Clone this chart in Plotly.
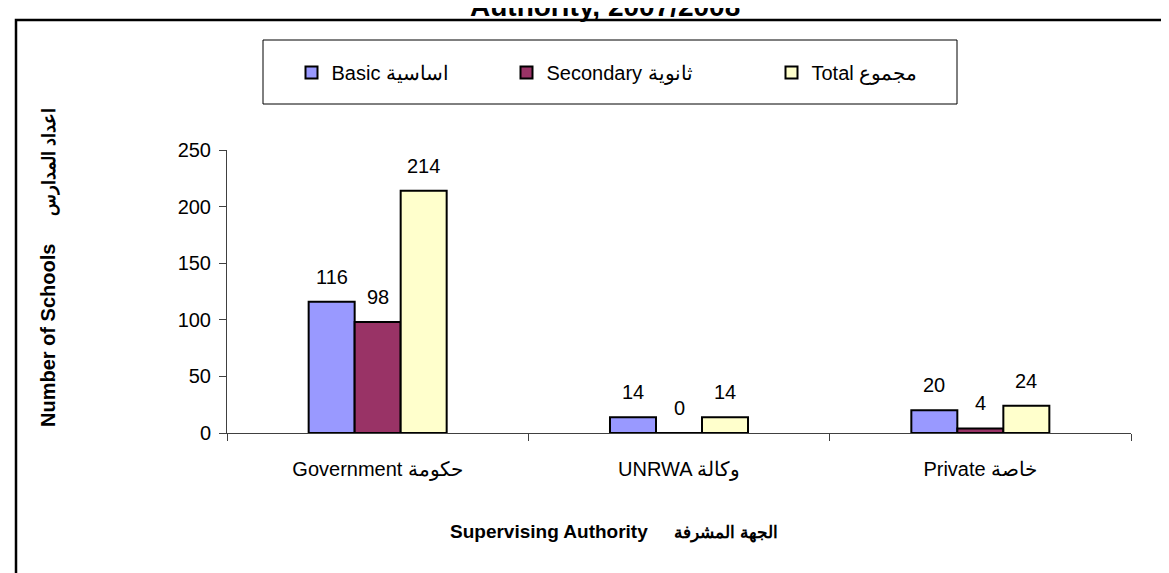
import plotly.graph_objects as go

# ---- data ----
categories = ["Government حكومة", "UNRWA وكالة", "Private خاصة"]
basic = [116, 14, 20]
secondary = [98, 0, 4]
total = [214, 14, 24]
series_names = ["Basic اساسية", "Secondary ثانوية", "Total مجموع"]
y_ticks = [0, 50, 100, 150, 200, 250]
title_text = "Authority, 2007/2008"
y_title_en = "Number of Schools"
y_title_ar = "اعداد المدارس"
x_title_en = "Supervising Authority"
x_title_ar = "الجهة المشرفة"

# ---- styling / geometry ----
colors = ["#9999FF", "#993366", "#FFFFCC"]
W, H = 1169, 573
L, R, T, B = 219, 1123, 142, 425
FONT = "Liberation Sans, Arial, sans-serif"
BARGAP = 0.542


def px(xp):
    return (xp - L) / (R - L)


def py(yp):
    return (B - yp) / (B - T)


series = [basic, secondary, total]
legend_ids = ["legend", "legend2", "legend3"]

fig = go.Figure()
for name, vals, col, lg in zip(series_names, series, colors, legend_ids):
    fig.add_trace(go.Bar(
        x=categories, y=vals, name=name, legend=lg,
        marker=dict(color=col, line=dict(color="black", width=2)),
    ))

# value labels
cat_px = (R - L) / len(categories)
bar_w = cat_px * (1 - BARGAP) / len(series)
annotations = []
for i, vals in enumerate(series):
    for c, v in zip(categories, vals):
        annotations.append(dict(
            x=c, y=v, xref="x", yref="y", text=str(v), showarrow=False,
            xshift=(i - 1) * bar_w, yshift=12, yanchor="bottom",
            font=dict(family=FONT, size=20, color="black"),
        ))

# y title
annotations.append(dict(
    x=px(40), y=py(260), xref="paper", yref="paper", textangle=-90,
    showarrow=False, xanchor="center", yanchor="middle",
    text=f"<b>{y_title_en}</b>\u00a0\u00a0\u00a0\u00a0\u00a0<b><span style='font-size:18px'>{y_title_ar}</span></b>",
    font=dict(family=FONT, size=20, color="black"),
))
# x title
annotations.append(dict(
    x=px(440), y=py(524), xref="paper", yref="paper",
    showarrow=False, xanchor="left", yanchor="middle",
    text=f"<b>{x_title_en}</b>\u00a0\u00a0\u00a0\u00a0\u00a0<b><span style='font-size:17px'>{x_title_ar}</span></b>",
    font=dict(family=FONT, size=19, color="black"),
))
# clipped title at top
annotations.append(dict(
    x=px(597), y=py(16), xref="paper", yref="paper",
    showarrow=False, xanchor="center", yanchor="bottom",
    text=f"<b>{title_text}</b>",
    font=dict(family=FONT, size=28, color="black"),
))

shapes = [
    # outer chart border
    dict(type="rect", xref="paper", yref="paper",
         x0=px(8), x1=px(1180), y0=py(590), y1=py(12),
         line=dict(color="black", width=2.5), fillcolor="rgba(0,0,0,0)", layer="below"),
    # legend box
    dict(type="rect", xref="paper", yref="paper",
         x0=px(255), x1=px(949), y0=py(96), y1=py(32),
         line=dict(color="black", width=1), fillcolor="white", layer="below"),
]

leg_common = dict(orientation="h", yanchor="middle", xanchor="left",
                  bgcolor="rgba(0,0,0,0)", borderwidth=0,
                  font=dict(family=FONT, size=20, color="black"))
sq_centers = [305.5, 520.5, 785.5]

fig.update_layout(
    width=W, height=H,
    margin=dict(l=L, r=W - R, t=T, b=H - B),
    paper_bgcolor="white", plot_bgcolor="white",
    barmode="group", bargap=BARGAP, bargroupgap=0,
    font=dict(family=FONT, size=20, color="black"),
    showlegend=True,
    legend=dict(x=px(sq_centers[0] - 22), y=py(64.5), **leg_common),
    legend2=dict(x=px(sq_centers[1] - 22), y=py(64.5), **leg_common),
    legend3=dict(x=px(sq_centers[2] - 22), y=py(64.5), **leg_common),
    xaxis=dict(
        type="category", showline=True, linecolor="#404040", linewidth=1,
        ticks="outside", ticklen=7, tickcolor="#404040", tickson="boundaries",
        showgrid=False, zeroline=False, ticklabelstandoff=18,
        tickfont=dict(family=FONT, size=20, color="black"),
    ),
    yaxis=dict(
        range=[0, 250], tickvals=y_ticks, showline=True, linecolor="#404040",
        linewidth=1, ticks="outside", ticklen=7, tickcolor="#404040",
        showgrid=False, zeroline=False, ticklabelstandoff=4,
        tickfont=dict(family=FONT, size=20, color="black"),
    ),
    annotations=annotations,
    shapes=shapes,
)

fig.write_html("out.html")
